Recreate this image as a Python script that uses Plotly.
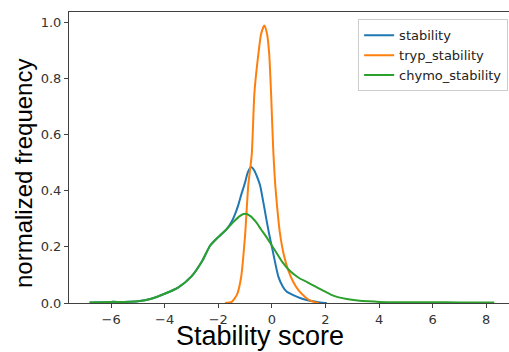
import plotly.graph_objects as go

# ---- data ----
green_x = [-6.8, -6.0, -5.5, -5.0, -4.5, -4.0, -3.5, -3.0, -2.6, -2.3, -2.0, -1.7, -1.4, -1.2, -1.0,
           -0.8, -0.6, -0.4, -0.2, 0.0, 0.2, 0.4, 0.7, 1.0, 1.3, 1.6, 1.9, 2.2, 2.5, 2.8, 3.2, 3.6,
           4.0, 5.0, 6.0, 7.0, 8.3]
green_y = [0.002, 0.004, 0.004, 0.006, 0.015, 0.033, 0.055, 0.095, 0.150, 0.205, 0.235, 0.262, 0.292,
           0.310, 0.318, 0.310, 0.290, 0.262, 0.235, 0.205, 0.175, 0.145, 0.112, 0.090, 0.075, 0.060,
           0.045, 0.030, 0.020, 0.014, 0.009, 0.006, 0.004, 0.003, 0.003, 0.002, 0.002]

blue_x = [-6.8, -6.0, -5.5, -5.0, -4.5, -4.0, -3.5, -3.0, -2.6, -2.3, -2.0, -1.7, -1.5, -1.38, -1.25,
          -1.13, -1.0, -0.9, -0.78, -0.65, -0.55, -0.44, -0.3, -0.13, 0.05, 0.24, 0.4, 0.55, 0.8,
          1.05, 1.3, 1.55, 1.8, 2.05]
blue_y = [0.002, 0.004, 0.004, 0.006, 0.015, 0.033, 0.055, 0.095, 0.150, 0.205, 0.235, 0.262, 0.290,
          0.315, 0.350, 0.390, 0.430, 0.465, 0.485, 0.472, 0.450, 0.420, 0.350, 0.260, 0.178, 0.095,
          0.060, 0.041, 0.028, 0.018, 0.011, 0.006, 0.002, 0.000]

orange_x = [-1.75, -1.5, -1.3, -1.15, -1.0, -0.88, -0.75, -0.65, -0.5, -0.4, -0.28, -0.18, -0.1,
            -0.03, 0.05, 0.12, 0.2, 0.3, 0.45, 0.6, 0.8, 1.0, 1.2, 1.4, 1.6, 1.75]
orange_y = [0.000, 0.004, 0.030, 0.090, 0.240, 0.420, 0.530, 0.750, 0.890, 0.960, 0.990, 0.960, 0.890,
            0.750, 0.550, 0.430, 0.340, 0.250, 0.170, 0.120, 0.075, 0.045, 0.025, 0.010, 0.003, 0.000]

series = [
    ("stability", blue_x, blue_y, "#1f77b4"),
    ("tryp_stability", orange_x, orange_y, "#ff7f0e"),
    ("chymo_stability", green_x, green_y, "#2ca02c"),
]

x_ticks = [-6, -4, -2, 0, 2, 4, 6, 8]
y_ticks = [0.0, 0.2, 0.4, 0.6, 0.8, 1.0]
y_tick_text = ["0.0", "0.2", "0.4", "0.6", "0.8", "1.0"]
x_tick_text = ["\u22126", "\u22124", "\u22122", "0", "2", "4", "6", "8"]

fig = go.Figure()
for name, xs, ys, col in series:
    fig.add_trace(go.Scatter(x=xs, y=ys, mode="lines", name=name,
                             line=dict(color=col, width=2, shape="spline", smoothing=0.6)))

axis_col = "#404040"
tick_font = dict(family="DejaVu Sans", size=13, color="#333333")

fig.update_layout(
    width=509, height=352,
    margin=dict(l=69, r=0, t=12, b=49),
    paper_bgcolor="white", plot_bgcolor="white",
    showlegend=True,
    legend=dict(x=0.998, y=0.975, xanchor="right", yanchor="top",
                bgcolor="white", bordercolor="#cccccc", borderwidth=1,
                font=dict(family="DejaVu Sans", size=13, color="#222222")),
    xaxis=dict(range=[-7.57, 8.85], tickvals=x_ticks, ticktext=x_tick_text,
               showgrid=False, zeroline=False, showline=True, linecolor=axis_col, linewidth=1,
               mirror=True, ticks="outside", ticklen=4, tickcolor=axis_col, tickfont=tick_font),
    yaxis=dict(range=[0, 1.038], tickvals=y_ticks, ticktext=y_tick_text,
               showgrid=False, zeroline=False, showline=True, linecolor=axis_col, linewidth=1,
               ticks="outside", ticklen=4, tickcolor=axis_col, tickfont=tick_font),
    annotations=[
        dict(text="normalized frequency", xref="paper", yref="paper",
             x=(23 - 69) / 440, y=(303 - 174) / 291, xanchor="center", yanchor="middle",
             textangle=-90, showarrow=False,
             font=dict(family="Liberation Sans, Arial", size=24, color="black")),
        dict(text="Stability score", xref="paper", yref="paper",
             x=(260 - 69) / 440, y=(303 - 336) / 291, xanchor="center", yanchor="middle",
             showarrow=False,
             font=dict(family="Liberation Sans, Arial", size=27, color="black")),
    ],
)

fig.write_html("out.html")
